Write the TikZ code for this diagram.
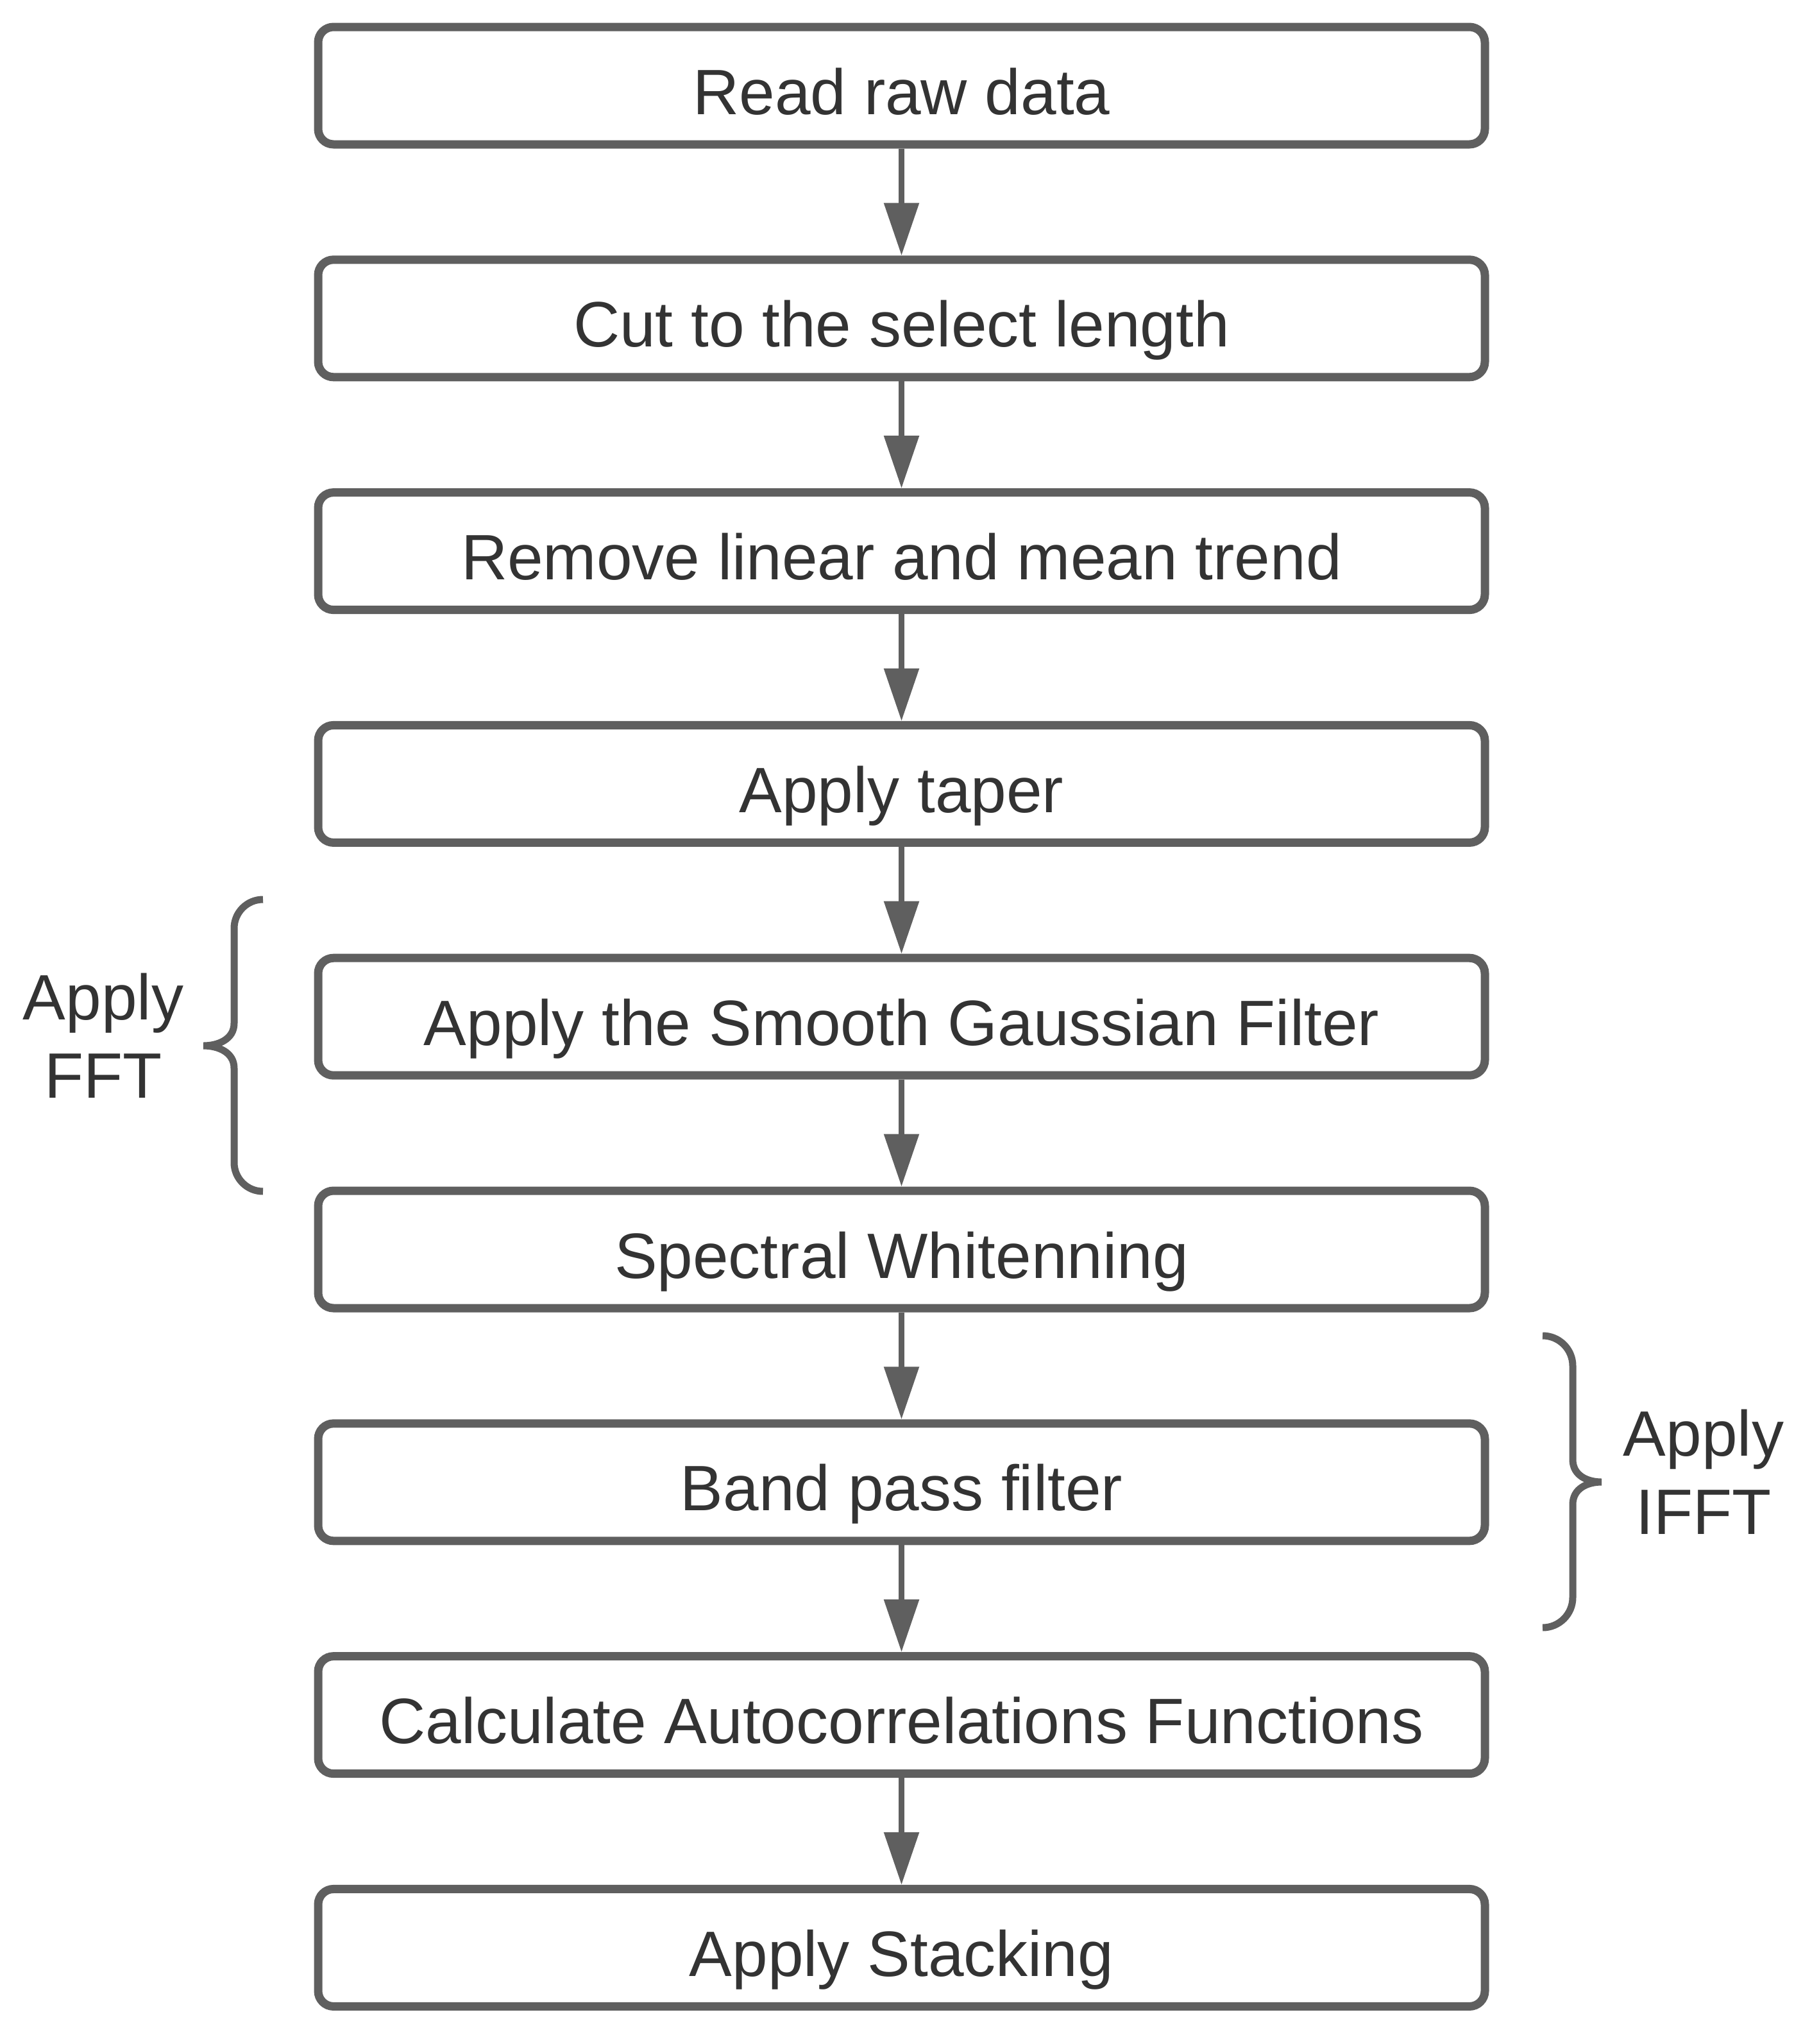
\documentclass[tikz,border=0pt]{standalone}
\usepackage{fontspec}
\setmainfont{Liberation Sans}
\usetikzlibrary{positioning,arrows.meta}
\definecolor{linegray}{HTML}{5F5F5F}
\definecolor{textgray}{HTML}{333333}
\begin{document}
\begin{tikzpicture}[
		stepbox/.style={draw=linegray, line width=0.13cm, rounded corners=0.24cm,
			minimum width=18.19cm, minimum height=1.83cm, inner sep=0pt,
			text height=0.95cm, text depth=0.06cm, text=textgray,
			font=\fontsize{28.45}{34.7}\selectfont},
		flow/.style={draw=linegray, line width=0.09cm, -{Triangle[length=0.82cm, width=0.53cm]}},
		brace/.style={draw=linegray, line width=0.11cm},
		sidetext/.style={align=center, text=textgray, inner sep=0pt,
			font=\fontsize{28.45}{34.7}\selectfont}
	]
	\useasboundingbox (0,0) rectangle (28.11,-31.86);
	% 画流程框
	\node[stepbox] (raw) at (14.055,-1.335) {Read raw data};
	\node[stepbox, below=1.668cm of raw] (cut) {Cut to the select length};
	\node[stepbox, below=1.668cm of cut] (trend) {Remove linear and mean trend};
	\node[stepbox, below=1.668cm of trend] (taper) {Apply taper};
	\node[stepbox, below=1.668cm of taper] (gauss) {Apply the Smooth Gaussian Filter};
	\node[stepbox, below=1.668cm of gauss] (white) {Spectral Whitenning};
	\node[stepbox, below=1.668cm of white] (band) {Band pass filter};
	\node[stepbox, below=1.668cm of band] (acf) {Calculate Autocorrelations Functions};
	\node[stepbox, below=1.668cm of acf] (stack) {Apply Stacking};
	% 画箭头
	\foreach \a/\b in {raw/cut, cut/trend, trend/taper, taper/gauss, gauss/white, white/band, band/acf, acf/stack} {
		\draw[flow] (\a) -- (\b);
	}
	% 画括号
	\draw[brace] (4.10,-14.02) arc[start angle=90, end angle=180, radius=0.45] -- (3.65,-15.95)
		.. controls (3.65,-16.20) and (3.40,-16.30) .. (3.17,-16.30)
		.. controls (3.40,-16.30) and (3.65,-16.40) .. (3.65,-16.65)
		-- (3.65,-18.12) arc[start angle=180, end angle=270, radius=0.45];
	\draw[brace] (24.05,-20.82) arc[start angle=90, end angle=0, radius=0.47] -- (24.52,-22.75)
		.. controls (24.52,-23.00) and (24.75,-23.10) .. (24.97,-23.10)
		.. controls (24.75,-23.10) and (24.52,-23.20) .. (24.52,-23.45)
		-- (24.52,-24.90) arc[start angle=0, end angle=-90, radius=0.47];
	% 标注
	\node[sidetext] (fft) at (1.61,-16.14) {Apply\\FFT};
	\node[sidetext] (ifft) at (26.56,-22.94) {Apply\\IFFT};
\end{tikzpicture}
\end{document}
